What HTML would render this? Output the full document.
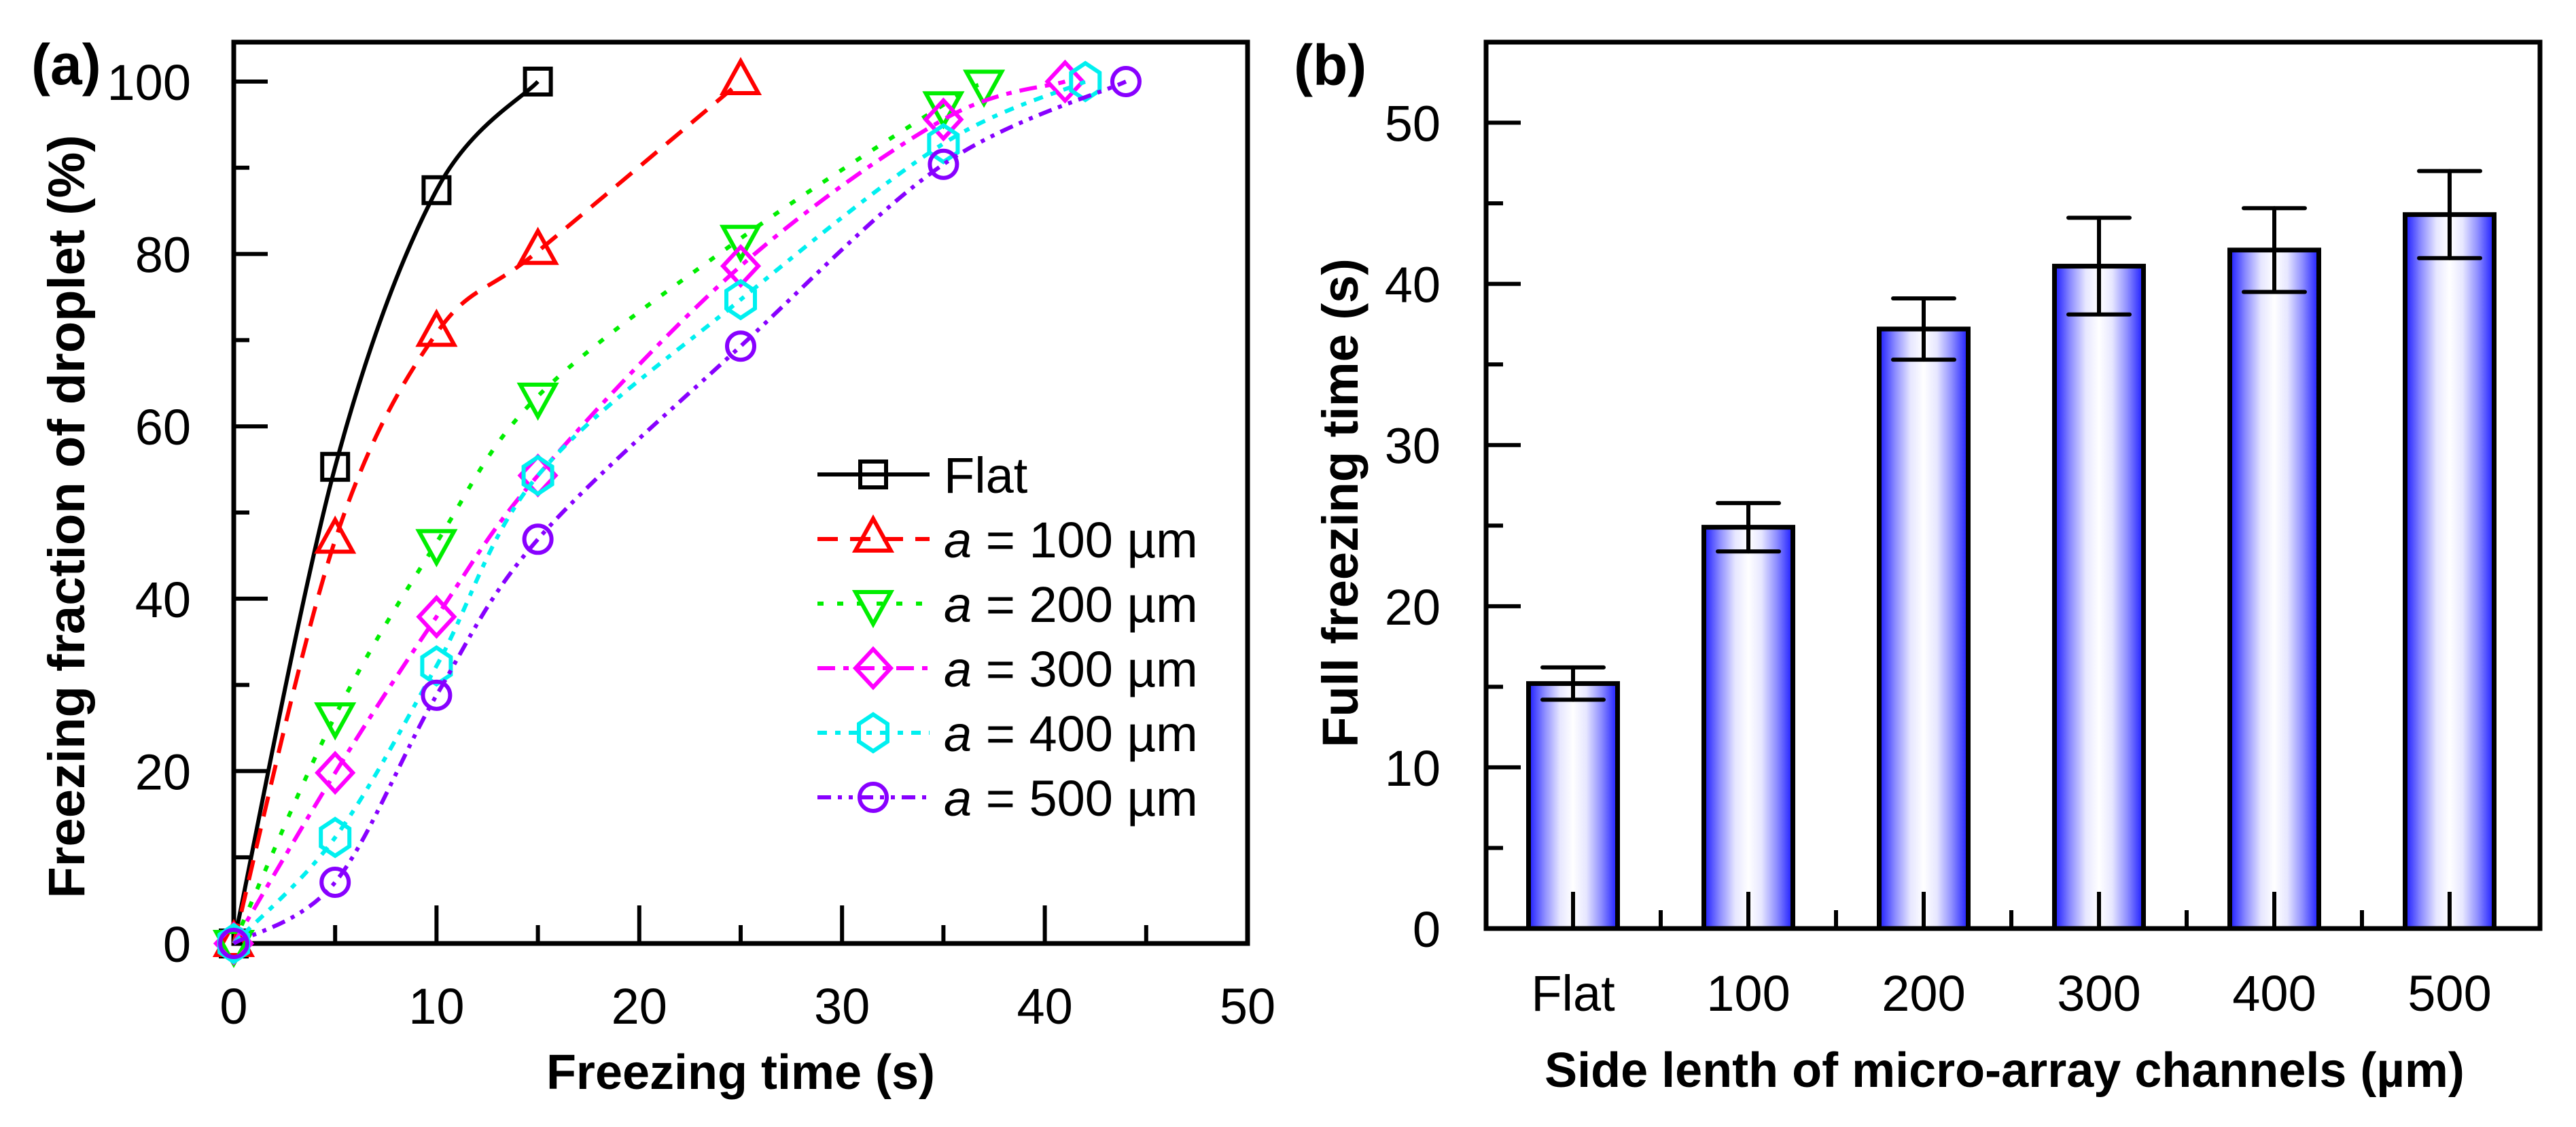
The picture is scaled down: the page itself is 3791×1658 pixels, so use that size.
<!DOCTYPE html>
<html><head><meta charset="utf-8"><style>
html,body{margin:0;padding:0;background:#fff;}
svg{display:block;}
text{font-family:"Liberation Sans",Arial,sans-serif;}
</style></head><body>
<svg id="fig" width="3791" height="1658" viewBox="0 0 3791 1658" xmlns="http://www.w3.org/2000/svg">
<defs>
<linearGradient id="barGrad" x1="0" y1="0" x2="1" y2="0">
<stop offset="0" stop-color="#1a1aff"/><stop offset="0.18" stop-color="#8c8cff"/><stop offset="0.35" stop-color="#e6e6ff"/><stop offset="0.5" stop-color="#ffffff"/><stop offset="0.65" stop-color="#e6e6ff"/><stop offset="0.82" stop-color="#8c8cff"/><stop offset="1" stop-color="#1a1aff"/>
</linearGradient>
</defs>
<g id="panelA"></g>
<g id="panelB"></g>
</svg>
<script>
// ---------- Panel (a) data ----------
const aXTicks = [0,10,20,30,40,50];
const aYTicks = [0,20,40,60,80,100];
const seriesNames = ["Flat","a = 100 µm","a = 200 µm","a = 300 µm","a = 400 µm","a = 500 µm"];
const flatX = [0,5,10,15];
const flatY = [0,55.3,87.4,100];
const a100X = [0,5,10,15,25];
const a100Y = [0,46.8,70.8,80.3,100];
const a200X = [0,5,10,15,25,35,37];
const a200Y = [0,26.4,46.5,63.5,81.8,97.3,99.8];
const a300X = [0,5,10,15,25,35,41];
const a300Y = [0,19.8,37.9,54.3,78.6,95.6,100];
const a400X = [0,5,10,15,25,35,42];
const a400Y = [0,12.3,32.2,54.3,74.7,92.8,100];
const a500X = [0,5,10,15,25,35,44];
const a500Y = [0,7.1,28.8,46.9,69.3,90.4,100];
// ---------- Panel (b) data ----------
const bCategories = ["Flat","100","200","300","400","500"];
const bValues = [15.2,24.9,37.2,41.1,42.1,44.3];
const bErrors = [1.0,1.5,1.9,3.0,2.6,2.7];
const bYTicks = [0,10,20,30,40,50];

const NS="http://www.w3.org/2000/svg";
function mk(parent,tag,attrs){const e=document.createElementNS(NS,tag);for(const k in attrs)e.setAttribute(k,attrs[k]);parent.appendChild(e);return e;}

// ===== Panel A =====
const A=document.getElementById('panelA');
const aL=344,aR=1836,aT=62,aB=1388;
const ax=v=>aL+(v/50)*(aR-aL);
const ay=v=>aB-(v/100)*(1388-120);

const aFrame=mk(A,'rect',{x:aL,y:aT,width:aR-aL,height:aB-aT,fill:'none',stroke:'#000','stroke-width':7});


for(let v=0;v<=50;v+=5){
  const major=v%10===0;
  const t=mk(A,'line',{x1:ax(v),x2:ax(v),y1:aB,y2:aB-(major?56:27),stroke:'#000','stroke-width':6});
  
  
}
for(let v=0;v<=100;v+=10){
  const major=v%20===0;
  const t=mk(A,'line',{x1:aL,x2:aL+(major?50:23),y1:ay(v),y2:ay(v),stroke:'#000','stroke-width':6});
  
  
}
aXTicks.forEach(v=>{
  const t=mk(A,'text',{x:ax(v),y:1506,'font-size':74,'text-anchor':'middle'});t.textContent=v;
  
  
});
aYTicks.forEach(v=>{
  const t=mk(A,'text',{x:281,y:ay(v)+27,'font-size':74,'text-anchor':'end'});t.textContent=v;
  
  
});
let t=mk(A,'text',{x:1090,y:1602,'font-size':72,'font-weight':'bold','text-anchor':'middle'});t.textContent='Freezing time (s)';


t=mk(A,'text',{x:0,y:0,'font-size':76,'font-weight':'bold','text-anchor':'middle',transform:'translate(124,760) rotate(-90)'});t.textContent='Freezing fraction of droplet (%)';


t=mk(A,'text',{x:46,y:124,'font-size':84,'font-weight':'bold'});t.textContent='(a)';



const styles=[
 {c:'#000000',dash:'',m:'square'},
 {c:'#ff0000',dash:'30 18',m:'tri-up'},
 {c:'#00ee00',dash:'9 20',m:'tri-down'},
 {c:'#ff00ff',dash:'26 12 8 12',m:'diamond'},
 {c:'#00f0f0',dash:'14 12 8 12',m:'hexagon'},
 {c:'#8800ff',dash:'20 10 6 10 6 10',m:'circle'}
];
const allX=[flatX,a100X,a200X,a300X,a400X,a500X];
const allY=[flatY,a100Y,a200Y,a300Y,a400Y,a500Y];

function spline(px,py){
  let d=`M${px[0]},${py[0]}`;
  for(let i=0;i<px.length-1;i++){
    const x0=px[Math.max(i-1,0)],y0=py[Math.max(i-1,0)];
    const x1=px[i],y1=py[i],x2=px[i+1],y2=py[i+1];
    const x3=px[Math.min(i+2,px.length-1)],y3=py[Math.min(i+2,px.length-1)];
    const c1x=x1+(x2-x0)/6,c1y=y1+(y2-y0)/6,c2x=x2-(x3-x1)/6,c2y=y2-(y3-y1)/6;
    d+=` C${c1x},${c1y} ${c2x},${c2y} ${x2},${y2}`;
  }
  return d;
}
function marker(g,type,cx,cy,col){
  const sw=6;let e;
  if(type==='square') e=mk(g,'rect',{x:cx-19,y:cy-19,width:38,height:38,fill:'none',stroke:col,'stroke-width':sw});
  else if(type==='tri-up') e=mk(g,'polygon',{points:`${cx},${cy-30} ${cx+26},${cy+17} ${cx-26},${cy+17}`,fill:'none',stroke:col,'stroke-width':sw});
  else if(type==='tri-down') e=mk(g,'polygon',{points:`${cx},${cy+30} ${cx+26},${cy-17} ${cx-26},${cy-17}`,fill:'none',stroke:col,'stroke-width':sw});
  else if(type==='diamond') e=mk(g,'polygon',{points:`${cx},${cy-28} ${cx+26},${cy} ${cx},${cy+28} ${cx-26},${cy}`,fill:'none',stroke:col,'stroke-width':sw});
  else if(type==='hexagon') e=mk(g,'polygon',{points:`${cx},${cy-27} ${cx+21},${cy-13} ${cx+21},${cy+13} ${cx},${cy+27} ${cx-21},${cy+13} ${cx-21},${cy-13}`,fill:'none',stroke:col,'stroke-width':sw});
  else e=mk(g,'circle',{cx:cx,cy:cy,r:20,fill:'none',stroke:col,'stroke-width':sw});
  
  
}
allX.forEach((xs,si)=>{
  const s=styles[si];
  const g=mk(A,'g',{});
  
  
  const px=xs.map(ax),py=allY[si].map(ay);
  const p=mk(g,'path',{d:spline(px,py),fill:'none',stroke:s.c,'stroke-width':6,'stroke-dasharray':s.dash});
  
  
  px.forEach((x,i)=>marker(g,s.m,x,py[i],s.c));
});
// legend
const leg=mk(A,'g',{});


seriesNames.forEach((n,i)=>{
  const s=styles[i];const y=698+i*95;
  const g=mk(leg,'g',{});
  
  
  const l=mk(g,'line',{x1:1203,x2:1368,y1:y,y2:y,stroke:s.c,'stroke-width':6,'stroke-dasharray':s.dash});
  
  
  marker(g,s.m,1285,y,s.c);
  const tx=mk(g,'text',{x:1389,y:y+27,'font-size':74});
  
  
  if(i===0){tx.textContent=n;}
  else{const ts=mk(tx,'tspan',{'font-style':'italic'});ts.textContent='a';const r=mk(tx,'tspan',{});r.textContent=n.slice(1);}
});

// ===== Panel B =====
const B=document.getElementById('panelB');
const bL=2187,bR=3738,bT=62,bB=1366;
const bStep=258,bFirst=2315,bW=131;
const bx=i=>bFirst+i*bStep;
const by=v=>bB-(v/55)*(bB-bT);

bCategories.forEach((c,i)=>{
  const x=bx(i);
  const r=mk(B,'rect',{x:x-bW/2,y:by(bValues[i]),width:bW,height:bB-by(bValues[i]),fill:'url(#barGrad)',stroke:'#000','stroke-width':7});
  
  
  const eg=mk(B,'g',{stroke:'#000','stroke-width':6,'stroke-linecap':'round'});
  
  
  const hi=by(bValues[i]+bErrors[i]),lo=by(bValues[i]-bErrors[i]);
  mk(eg,'line',{x1:x,x2:x,y1:hi,y2:lo});
  mk(eg,'line',{x1:x-45,x2:x+45,y1:hi,y2:hi});
  mk(eg,'line',{x1:x-45,x2:x+45,y1:lo,y2:lo});
  const lb=mk(B,'text',{x:x,y:1487,'font-size':74,'text-anchor':'middle'});lb.textContent=c;
  
  
});
const bFrame=mk(B,'rect',{x:bL,y:bT,width:bR-bL,height:bB-bT,fill:'none',stroke:'#000','stroke-width':7});


for(let i=0;i<bCategories.length;i++){
  const tk=mk(B,'line',{x1:bx(i),x2:bx(i),y1:bB,y2:bB-54,stroke:'#000','stroke-width':6});
  
  
  if(i<bCategories.length-1){
    const mt=mk(B,'line',{x1:bx(i)+bStep/2,x2:bx(i)+bStep/2,y1:bB,y2:bB-27,stroke:'#000','stroke-width':6});
    
    
  }
}
for(let v=0;v<=50;v+=5){
  const major=v%10===0;
  const tk=mk(B,'line',{x1:bL,x2:bL+(major?51:25),y1:by(v),y2:by(v),stroke:'#000','stroke-width':6});
  
  
}
bYTicks.forEach(v=>{
  const tl=mk(B,'text',{x:2120,y:by(v)+27,'font-size':74,'text-anchor':'end'});tl.textContent=v;
  
  
});
t=mk(B,'text',{x:2950,y:1599,'font-size':72,'font-weight':'bold','text-anchor':'middle'});t.textContent='Side lenth of micro-array channels (µm)';


t=mk(B,'text',{x:0,y:0,'font-size':74,'font-weight':'bold','text-anchor':'middle',transform:'translate(1998,740) rotate(-90)'});t.textContent='Full freezing time (s)';


t=mk(B,'text',{x:1904,y:125,'font-size':84,'font-weight':'bold'});t.textContent='(b)';


</script>
</body></html>
